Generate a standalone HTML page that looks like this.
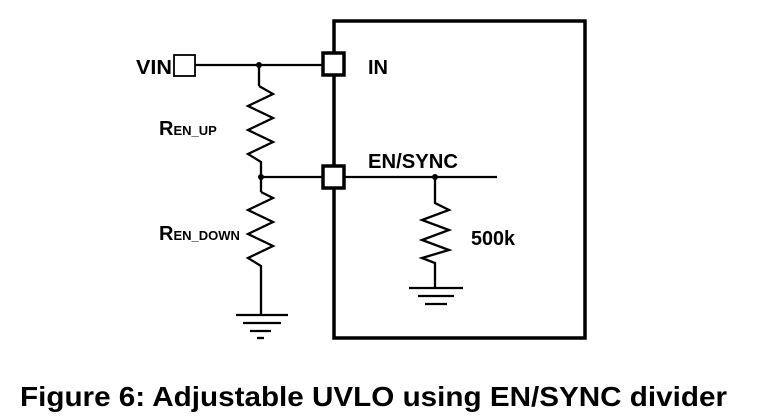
<!DOCTYPE html>
<html><head><style>html,body{margin:0;padding:0;background:#fff}svg{display:block}</style></head>
<body>
<svg width="772" height="419" viewBox="0 0 772 419" xmlns="http://www.w3.org/2000/svg" font-family="Liberation Sans, Arial, sans-serif" font-weight="bold">
<g stroke="#000" fill="none" stroke-width="2.3">
<rect x="334" y="21" width="251" height="317" stroke-width="3.5"/>
<rect x="174" y="55" width="21" height="21" stroke-width="1.8"/>
<line x1="195" y1="65" x2="322" y2="65"/>
<line x1="259" y1="65" x2="259" y2="86"/>
<polyline points="259,86 273,94 248,106 273,118 248,130 273,142 248,154 261,162 261,192"/>
<line x1="261" y1="177" x2="322" y2="177"/>
<polyline points="261,192 273,198 248,210 273,222 248,234 273,246 248,258 261,266 261,315"/>
<line x1="236" y1="315" x2="288" y2="315"/>
<line x1="243" y1="323" x2="281" y2="323"/>
<line x1="250" y1="331" x2="271" y2="331"/>
<line x1="257" y1="338" x2="264" y2="338"/>
<line x1="345" y1="177" x2="497" y2="177"/>
<polyline points="435,177 435,203 449,210 422,220 449,230 422,240 449,250 422,258 435,263 435,288"/>
<line x1="409" y1="288" x2="463" y2="288"/>
<line x1="418" y1="296" x2="454" y2="296"/>
<line x1="425" y1="304" x2="447" y2="304"/>
<rect x="323" y="53" width="21" height="22" stroke-width="3.5" fill="#fff"/>
<rect x="323" y="166" width="21" height="22" stroke-width="3.5" fill="#fff"/>
</g>
<g fill="#000">
<circle cx="259" cy="65" r="3"/>
<circle cx="261" cy="177" r="3"/>
<circle cx="435" cy="177" r="3"/>
<text x="136" y="74" font-size="20" textLength="36" lengthAdjust="spacingAndGlyphs">VIN</text>
<text x="368" y="74" font-size="20">IN</text>
<text x="368" y="168" font-size="20" textLength="90" lengthAdjust="spacingAndGlyphs">EN/SYNC</text>
<text x="471" y="245" font-size="20" textLength="44" lengthAdjust="spacingAndGlyphs">500k</text>
<text x="159" y="135" font-size="20">R<tspan font-size="13">EN_UP</tspan></text>
<text x="159" y="240" font-size="20">R<tspan font-size="13">EN_DOWN</tspan></text>
<text x="20" y="406" font-size="28" textLength="707" lengthAdjust="spacingAndGlyphs">Figure 6: Adjustable UVLO using EN/SYNC divider</text>
</g>
</svg>
</body></html>
